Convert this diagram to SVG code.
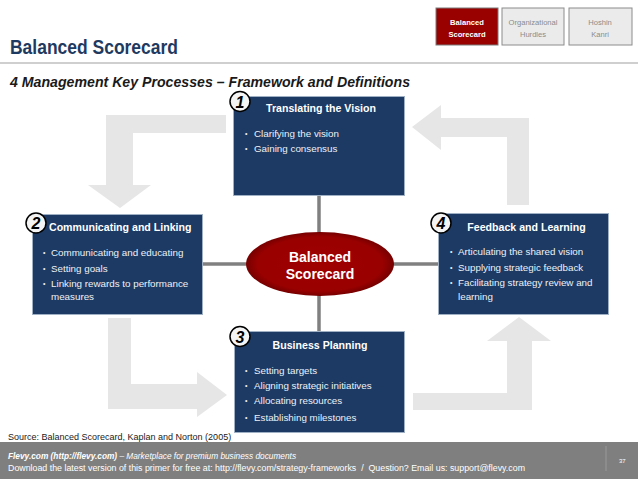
<svg xmlns="http://www.w3.org/2000/svg" width="638" height="479" viewBox="0 0 638 479">
<style>
text{font-family:"Liberation Sans",Arial,sans-serif}
.box{fill:#1c3a64;stroke:#9fb0c4;stroke-width:1}
.bt{fill:#ffffff;font-weight:bold;font-size:10.6px}
.bl{fill:#eef1f6;font-size:9.8px}
.dot{fill:#eef1f6;font-size:7px}
.num{fill:#000;font-weight:bold;font-style:italic;font-size:16px;text-anchor:middle}
.circ{fill:#f4f4f4;stroke:#000;stroke-width:1.5}
.arrow{fill:#e6e6e6}
.conn{stroke:#808080;stroke-width:3.5;fill:none}
.tab{font-size:7.6px;text-anchor:middle}
</style>
<defs>
<radialGradient id="eg" cx="50%" cy="50%" r="50%">
<stop offset="0" stop-color="#a00000"/>
<stop offset="0.85" stop-color="#990000"/>
<stop offset="1" stop-color="#760000"/>
</radialGradient>
</defs>
<rect width="638" height="479" fill="#ffffff"/>
<text x="10" y="54" font-size="21" font-weight="bold" fill="#1f3a60" textLength="168" lengthAdjust="spacingAndGlyphs">Balanced Scorecard</text>
<line x1="0" y1="63" x2="638" y2="63" stroke="#bfbfbf" stroke-width="1.5"/>
<g id="tabs">
<rect x="436" y="8" width="62" height="37" fill="#990000" stroke="#7a7a7a" stroke-width="1"/>
<text class="tab" x="467" y="25" fill="#fff" font-weight="bold">Balanced</text>
<text class="tab" x="467" y="37" fill="#fff" font-weight="bold">Scorecard</text>
<rect x="502" y="8" width="62" height="37" fill="#ebebeb" stroke="#8c8c8c" stroke-width="1"/>
<text class="tab" x="533" y="25" fill="#8c8c8c">Organizational</text>
<text class="tab" x="533" y="37" fill="#8c8c8c">Hurdles</text>
<rect x="569" y="8" width="63" height="37" fill="#ebebeb" stroke="#8c8c8c" stroke-width="1"/>
<text class="tab" x="600" y="25" fill="#8c8c8c">Hoshin</text>
<text class="tab" x="600" y="37" fill="#8c8c8c">Kanri</text>
</g>
<text x="10" y="87" font-size="14" font-weight="bold" font-style="italic" fill="#1a1a1a" textLength="400" lengthAdjust="spacingAndGlyphs">4 Management Key Processes – Framework and Definitions</text>
<g id="flow-arrows">
<polygon class="arrow" points="226,115 106,115 106,185 88,185 120,208 151,185 133,185 133,133 226,133"/>
<polygon class="arrow" points="507,205 507,137 441,137 441,150 412,127 441,105 441,118 529,118 529,205"/>
<polygon class="arrow" points="108,318 108,409 197,409 197,417 227,395 197,372 197,384 131,384 131,318"/>
<polygon class="arrow" points="413,393 413,410 532,410 532,341 551,341 519,317 487,341 507,341 507,393"/>
</g>
<g id="connectors">
<line class="conn" x1="319" y1="195" x2="319" y2="331"/>
<line class="conn" x1="202" y1="264" x2="439" y2="264"/>
</g>
<g id="center">
<ellipse cx="320" cy="264" rx="74" ry="32" fill="url(#eg)"/>
<text x="320" y="262" fill="#fff" font-size="14" font-weight="bold" text-anchor="middle">Balanced</text>
<text x="320" y="279" fill="#fff" font-size="14" font-weight="bold" text-anchor="middle">Scorecard</text>
</g>
<g id="node1">
<rect class="box" x="233.5" y="96.5" width="171" height="99"/>
<text class="bt" x="321" y="112" text-anchor="middle">Translating the Vision</text>
<text class="dot" x="245" y="136">•</text><text class="bl" x="254" y="137">Clarifying the vision</text>
<text class="dot" x="245" y="151">•</text><text class="bl" x="254" y="152">Gaining consensus</text>
<circle class="circ" cx="240" cy="101.5" r="10"/>
<text class="num" x="240" y="107.5">1</text>
</g>
<g id="node2">
<rect class="box" x="32.5" y="214.5" width="170" height="100"/>
<text class="bt" x="49" y="231">Communicating and Linking</text>
<text class="dot" x="43" y="254.5">•</text><text class="bl" x="51" y="255.5">Communicating and educating</text>
<text class="dot" x="43" y="270.5">•</text><text class="bl" x="51" y="271.5">Setting goals</text>
<text class="dot" x="43" y="286">•</text><text class="bl" x="51" y="287">Linking rewards to performance</text>
<text class="bl" x="51" y="299.5">measures</text>
<circle class="circ" cx="36" cy="223" r="10"/>
<text class="num" x="36" y="229">2</text>
</g>
<g id="node3">
<rect class="box" x="234.5" y="331.5" width="170" height="101"/>
<text class="bt" x="320" y="349" text-anchor="middle">Business Planning</text>
<text class="dot" x="245" y="372.5">•</text><text class="bl" x="254" y="373.5">Setting targets</text>
<text class="dot" x="245" y="387.5">•</text><text class="bl" x="254" y="388.5">Aligning strategic initiatives</text>
<text class="dot" x="245" y="403">•</text><text class="bl" x="254" y="404">Allocating resources</text>
<text class="dot" x="245" y="419.5">•</text><text class="bl" x="254" y="420.5">Establishing milestones</text>
<circle class="circ" cx="240" cy="336.5" r="10"/>
<text class="num" x="240" y="342.5">3</text>
</g>
<g id="node4">
<rect class="box" x="438.5" y="213.5" width="170" height="101"/>
<text class="bt" x="526.5" y="231" text-anchor="middle">Feedback and Learning</text>
<text class="dot" x="450" y="253.5">•</text><text class="bl" x="458" y="254.5">Articulating the shared vision</text>
<text class="dot" x="450" y="269.5">•</text><text class="bl" x="458" y="270.5">Supplying strategic feedback</text>
<text class="dot" x="450" y="285">•</text><text class="bl" x="458" y="286">Facilitating strategy review and</text>
<text class="bl" x="458" y="299.5">learning</text>
<circle class="circ" cx="441" cy="223" r="10"/>
<text class="num" x="441" y="229">4</text>
</g>
<text x="8" y="439.5" font-size="9" fill="#1a1a1a">Source: Balanced Scorecard, Kaplan and Norton (2005)</text>
<g id="footer">
<rect x="0" y="442" width="638" height="37" fill="#7f7f7f"/>
<text x="8" y="458.5" font-size="8.3" fill="#fff"><tspan font-weight="bold" font-style="italic">Flevy.com (http://flevy.com)</tspan><tspan font-style="italic"> – Marketplace for premium business documents</tspan></text>
<text x="8" y="471" font-size="8.3" fill="#fff" textLength="517" lengthAdjust="spacingAndGlyphs">Download the latest version of this primer for free at: http://flevy.com/strategy-frameworks &#160;/ &#160;Question? Email us: support@flevy.com</text>
<line x1="606" y1="446" x2="606" y2="471" stroke="#9a9a9a" stroke-width="1"/>
<text x="619" y="463" font-size="6" fill="#fff">37</text>
</g>
</svg>
